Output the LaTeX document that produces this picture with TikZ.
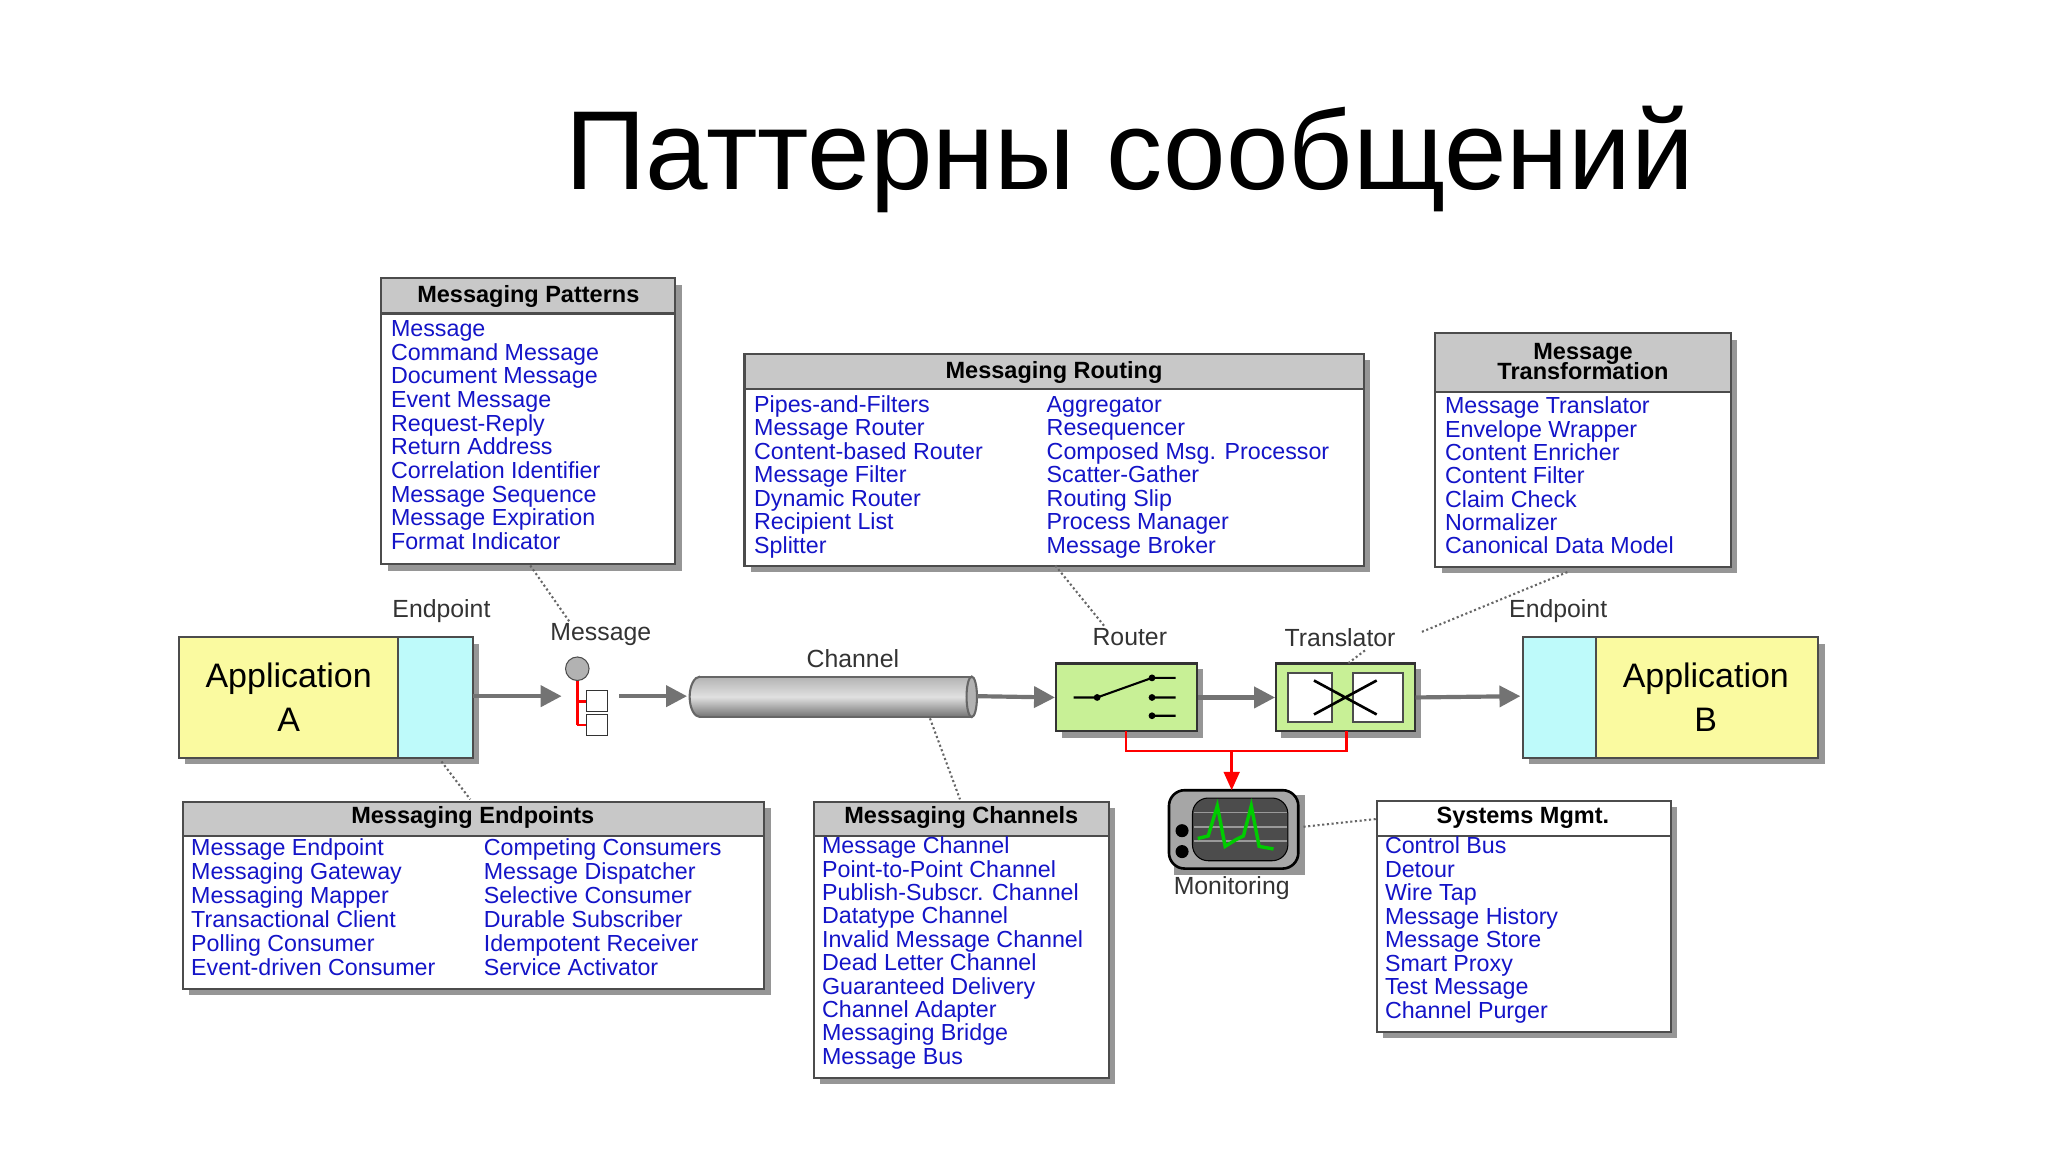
\documentclass[tikz,border=0pt]{standalone}
\usepackage{fontspec}
\setmainfont{Liberation Sans}
\usetikzlibrary{arrows.meta,shapes.geometric}
\definecolor{lnk}{RGB}{20,20,200}
\definecolor{hdr}{RGB}{200,200,200}
\definecolor{ylw}{RGB}{250,250,160}
\definecolor{cyn}{RGB}{190,250,250}
\definecolor{grn}{RGB}{200,240,150}
\definecolor{shd}{RGB}{150,150,150}
\tikzset{
 item/.style={anchor=west,inner sep=0pt,text=lnk,text height=6.5pt,text depth=1.8pt,font=\fontsize{8.9}{9}\selectfont},
 head/.style={inner sep=0pt,font=\bfseries\fontsize{9}{9.5}\selectfont,align=center},
 lbl/.style={inner sep=0pt,font=\fontsize{9.5}{10}\selectfont,text=black!80},
 flow/.style={draw=black!55,line width=1.6pt,-{Triangle[length=8pt,width=8pt]}},
 dots/.style={draw=black!60,densely dotted,line width=0.8pt},
 redl/.style={draw=red,line width=1pt},
}
\newcommand{\pbox}[6]{% name x1 y1 x2 y2 yh
 \fill[shd] (#2+5,#3+5) rectangle (#4+5,#5+5);
 \draw[fill=white,line width=0.8pt,draw=black!70] (#2,#3) rectangle (#4,#5);
 \draw[fill=hdr,line width=0.8pt,draw=black!70] (#2,#3) rectangle (#4,#6);
 \node[coordinate] (#1) at ({(#2+#4)/2},{(#3+#5)/2}) {};
}
\begin{document}
\begin{tikzpicture}[x=0.5pt,y=-0.5pt]
\useasboundingbox (0,0) rectangle (1568,882);
\node[inner sep=0pt,font=\fontsize{43}{48}\selectfont] (title) at (865,122) {Паттерны сообщений};

% Messaging Patterns
\pbox{mp}{292}{213}{517}{432}{240}
\node[head] (mph) at (404.5,227) {Messaging Patterns};
\foreach \t [count=\i from 0] in {Message,Command Message,Document Message,Event Message,Request-Reply,Return Address,Correlation Identifier,Message Sequence,Message Expiration,Format Indicator}
 \node[item] (mp\i) at (299,{253+\i*18.1}) {\t};

% Messaging Routing
\pbox{mr}{570}{271}{1044}{433}{298}
\node[head] (mrh) at (807,285) {Messaging Routing};
\foreach \t [count=\i from 0] in {Pipes-and-Filters,Message Router,Content-based Router,Message Filter,Dynamic Router,Recipient List,Splitter}
 \node[item] (mra\i) at (577,{311+\i*18}) {\t};
\foreach \t [count=\i from 0] in {Aggregator,Resequencer,Composed Msg. Processor,Scatter-Gather,Routing Slip,Process Manager,Message Broker}
 \node[item] (mrb\i) at (801,{311+\i*18}) {\t};

% Message Transformation
\pbox{mt}{1099}{255}{1325}{434}{300}
\node[head] (mth) at (1212,277) {Message\\[-2pt]Transformation};
\foreach \t [count=\i from 0] in {Message Translator,Envelope Wrapper,Content Enricher,Content Filter,Claim Check,Normalizer,Canonical Data Model}
 \node[item] (mt\i) at (1106,{312+\i*17.9}) {\t};

% Messaging Endpoints
\pbox{me}{140}{614}{585}{757}{640}
\node[head] (meh) at (362,626) {Messaging Endpoints};
\foreach \t [count=\i from 0] in {Message Endpoint,Messaging Gateway,Messaging Mapper,Transactional Client,Polling Consumer,Event-driven Consumer}
 \node[item] (mea\i) at (146,{650+\i*18.4}) {\t};
\foreach \t [count=\i from 0] in {Competing Consumers,Message Dispatcher,Selective Consumer,Durable Subscriber,Idempotent Receiver,Service Activator}
 \node[item] (meb\i) at (370,{650+\i*18.4}) {\t};

% Messaging Channels
\pbox{mc}{623}{614}{849}{825}{640}
\node[head] (mch) at (736,626) {Messaging Channels};
\foreach \t [count=\i from 0] in {Message Channel,Point-to-Point Channel,Publish-Subscr. Channel,Datatype Channel,Invalid Message Channel,Dead Letter Channel,Guaranteed Delivery,Channel Adapter,Messaging Bridge,Message Bus}
 \node[item] (mc\i) at (629,{649+\i*17.9}) {\t};

% Systems Mgmt
\fill[shd] (1059,618) rectangle (1284,795);
\draw[fill=white,line width=0.8pt,draw=black!70] (1054,613) rectangle (1279,790);
\draw[line width=0.8pt,draw=black!70] (1054,640) -- (1279,640);
\node[coordinate] (sm) at (1166,700) {};
\node[head] (smh) at (1166,626) {Systems Mgmt.};
\foreach \t [count=\i from 0] in {Control Bus,Detour,Wire Tap,Message History,Message Store,Smart Proxy,Test Message,Channel Purger}
 \node[item] (sm\i) at (1060,{649+\i*18}) {\t};

% Application A
\fill[shd] (142,493) rectangle (367,585);
\draw[fill=ylw,line width=0.8pt,draw=black!70] (137,488) rectangle (305,580);
\draw[fill=cyn,line width=0.8pt,draw=black!70] (305,488) rectangle (362,580);
\node[coordinate] (appA) at (362,533) {};
\node[inner sep=0pt,align=center,font=\fontsize{13}{17}\selectfont] (appAt) at (221,534) {Application\\A};
\node[lbl] (epA) at (338,468) {Endpoint};
% Application B
\fill[shd] (1171,493) rectangle (1397,585);
\draw[fill=cyn,line width=0.8pt,draw=black!70] (1166,488) rectangle (1222,580);
\draw[fill=ylw,line width=0.8pt,draw=black!70] (1222,488) rectangle (1392,580);
\node[coordinate] (appB) at (1164,533) {};
\node[inner sep=0pt,align=center,font=\fontsize{13}{17}\selectfont] (appBt) at (1306,534) {Application\\B};
\node[lbl] (epB) at (1193,468) {Endpoint};

% Message icon
\node[lbl] (msgl) at (460,486) {Message};
\draw[redl] (442,512) -- (442,555) (442,537) -- (450,537) (442,555) -- (450,555);
\node[circle,draw=black!70,fill=black!30,minimum size=9pt,inner sep=0pt] (msgc) at (442,512) {};
\node[draw=black!80,fill=white,minimum size=8pt,inner sep=0pt] (msgs1) at (457,537) {};
\node[draw=black!80,fill=white,minimum size=8pt,inner sep=0pt] (msgs2) at (457,555) {};
\node[coordinate] (msgin) at (430,533) {};
\node[coordinate] (msgout) at (474,533) {};

% Channel
\node[lbl] (chl) at (653,504) {Channel};
\shade[top color=black!30,bottom color=black!55,middle color=black!12] (536,533.5) ellipse (8 and 15.5);
\shade[top color=black!30,bottom color=black!55,middle color=black!12] (536,518) rectangle (744,549);
\draw[black!60,line width=0.8pt] (536,518) -- (744,518) (536,549) -- (744,549);
\draw[black!60,line width=0.8pt] (536,518) arc[start angle=270,delta angle=-180,x radius=8,y radius=15.5];
\draw[black!60,fill=black!30,line width=0.8pt] (744,533.5) ellipse (4 and 15.5);
\node[coordinate] (chin) at (526,533) {};
\node[coordinate] (chout) at (748,533) {};

% Router
\fill[shd] (813,512) rectangle (921,565);
\node[draw=black!80,fill=grn,line width=0.8pt,minimum width=54pt,minimum height=26pt,inner sep=0pt] (router) at (862.5,534) {};
\node[lbl] (routl) at (865,488) {Router};
\draw[line width=0.8pt] (822,534) -- (840,534) -- (882,519) (882,519)--(900,519) (882,534)--(900,534) (882,548)--(900,548);
\foreach \yy in {519,534,548} \fill (882,\yy) circle (2.6);
\fill (840,534) circle (2.6);

% Translator
\fill[shd] (981,512) rectangle (1088,565);
\node[draw=black!80,fill=grn,line width=0.8pt,minimum width=53pt,minimum height=26pt,inner sep=0pt] (transl) at (1030,534) {};
\node[lbl] (transll) at (1026,488) {Translator};
\draw[fill=white,draw=black!70,line width=0.8pt] (986,515) rectangle (1020,553) (1036,515) rectangle (1074,553);
\draw[line width=1pt] (1006,521) -- (1054,547) (1006,547) -- (1054,521);

% Monitoring
\fill[shd] (899,609) rectangle (999,670);
\draw[fill=black!35,rounded corners=6pt,line width=1pt] (895,605) rectangle (994,665);
\node[coordinate] (mon) at (943,605) {};
\draw[fill=black!70,rounded corners=6pt] (913,611) rectangle (986,659);
\foreach \yy in {622,633,644} \draw[black!40,line width=0.6pt] (914,\yy) -- (985,\yy);
\draw[green!80!black,line width=1.3pt] (917,642) -- (925,640) -- (932,617) -- (938,648) -- (946,643) -- (952,640) -- (958,617) -- (964,648) -- (975,650);
\fill (905,636) circle (5) (905,652) circle (5);
\node[lbl] (monl) at (943,680) {Monitoring};

% flows
\draw[flow] (appA) -- (msgin);
\draw[flow] (msgout) -- (chin);
\draw[flow] (chout) -- (router.west);
\draw[flow] (router.east) -- (transl.west);
\draw[flow] (transl.east) -- (appB);
\draw[redl] (862,560) -- (862,575) -- (1031,575) -- (1031,560);
\draw[redl,-{Triangle[length=7pt,width=6pt]}] (943,575) -- (mon);

% dotted pointers
\draw[dots] (406,433) -- (436,476);
\draw[dots] (808,433) -- (846,480);
\draw[dots] (1200,438) -- (1088,484);
\draw[dots] (1045,498) -- (1032,508);
\draw[dots] (338,583) -- (360,612);
\draw[dots] (712,550) -- (735,612);
\draw[dots] (998,633) -- (1054,627);
\end{tikzpicture}
\end{document}
